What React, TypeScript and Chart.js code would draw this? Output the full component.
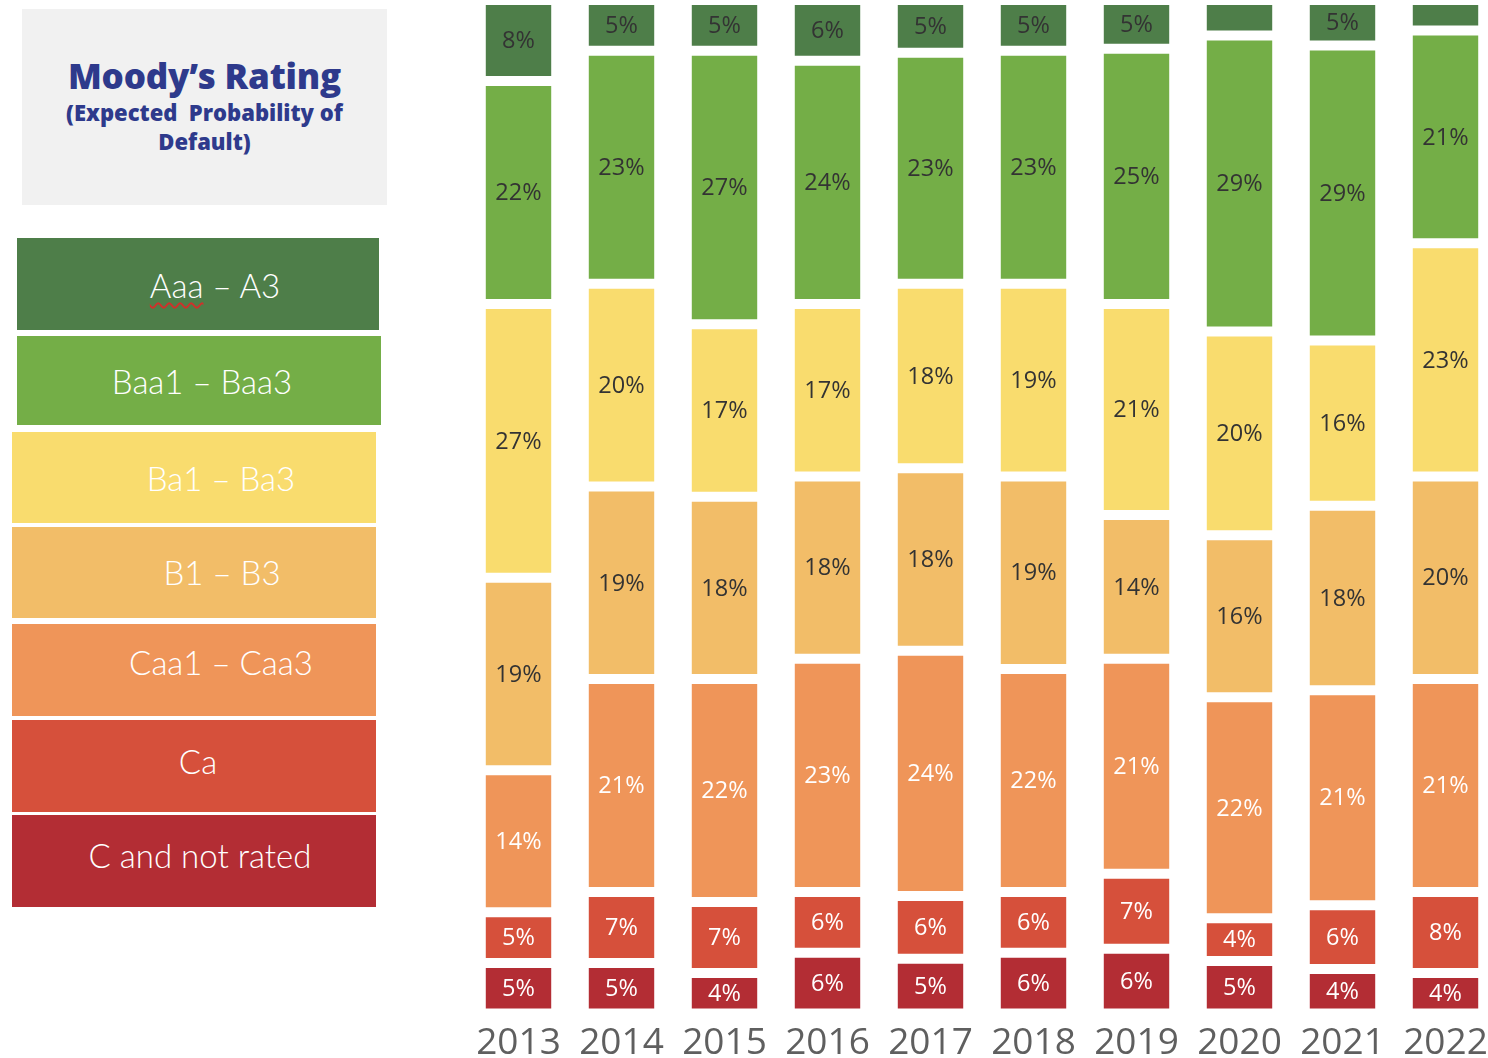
import React, { useEffect, useRef } from "react";
import { Chart, registerables } from "chart.js";

Chart.register(...registerables);

const years = ["2013", "2014", "2015", "2016", "2017", "2018", "2019", "2020", "2021", "2022"];

// Stacked bottom to top
const cNotRated = [5, 5, 4, 6, 5.4, 6, 6.4, 5.2, 4.4, 4];
const ca = [5, 7, 7, 6, 6.2, 6, 7.4, 4.2, 6.3, 8];
const caa1Caa3 = [14, 21, 22, 23, 24.2, 22, 21.2, 21.8, 21.2, 21];
const b1B3 = [19, 19, 18, 18, 18, 19, 14.2, 16, 18.2, 20];
const ba1Ba3 = [27, 20, 17, 17, 18.2, 19, 20.8, 20.1, 16.3, 23];
const baa1Baa3 = [22, 23, 27, 24, 22.8, 23, 25.2, 29.2, 29.1, 21];
const aaaA3 = [8, 5, 5, 6, 5.2, 5, 4.8, 3.5, 4.5, 3];

const seriesNames = ["C and not rated", "Ca", "Caa1 – Caa3", "B1 – B3", "Ba1 – Ba3", "Baa1 – Baa3", "Aaa – A3"];
const seriesValues = [cNotRated, ca, caa1Caa3, b1B3, ba1Ba3, baa1Baa3, aaaA3];
const seriesColors = ["#b32d34", "#d6503b", "#ef9559", "#f2bd68", "#f9dc6e", "#74ae47", "#4e7e49"];
const labelColors = ["#ffffff", "#ffffff", "#ffffff", "#333333", "#333333", "#333333", "#333333"];

const legendBoxes = [
  { name: "Aaa – A3", color: "#4e7e49", x: 17, y: 238, w: 362, h: 92, tx: 215, ty: 285 },
  { name: "Baa1 – Baa3", color: "#74ae47", x: 17, y: 336, w: 364, h: 89, tx: 202, ty: 381 },
  { name: "Ba1 – Ba3", color: "#f9dc6e", x: 12, y: 432, w: 364, h: 91, tx: 221, ty: 478 },
  { name: "B1 – B3", color: "#f2bd68", x: 12, y: 527, w: 364, h: 91, tx: 222, ty: 572 },
  { name: "Caa1 – Caa3", color: "#ef9559", x: 12, y: 624, w: 364, h: 92, tx: 221, ty: 662 },
  { name: "Ca", color: "#d6503b", x: 12, y: 720, w: 364, h: 92, tx: 198, ty: 761 },
  { name: "C and not rated", color: "#b32d34", x: 12, y: 815, w: 364, h: 92, tx: 200, ty: 855 },
];

const barLabels = {
  id: "barLabels",
  afterDatasetsDraw(chart: any) {
    const ctx = chart.ctx;
    ctx.save();
    ctx.font = "23.5px 'Open Sans'";
    ctx.textAlign = "center";
    ctx.textBaseline = "middle";
    chart.data.datasets.forEach((ds: any, di: number) => {
      const meta = chart.getDatasetMeta(di);
      meta.data.forEach((bar: any, i: number) => {
        const v = ds.data[i];
        const visible = Math.abs(bar.base - bar.y) - 10;
        if (visible < 26) return;
        ctx.fillStyle = labelColors[di];
        ctx.fillText(Math.round(v) + "%", bar.x, (bar.y + bar.base) / 2 + 1);
      });
    });
    ctx.restore();
  },
};

function BarChart() {
  const ref = useRef<HTMLCanvasElement | null>(null);
  useEffect(() => {
    if (!ref.current) return;
    const chart = new Chart(ref.current, {
      type: "bar",
      data: {
        labels: years,
        datasets: seriesNames.map((n, i) => ({
          label: n,
          data: seriesValues[i],
          backgroundColor: seriesColors[i],
          borderColor: "#ffffff",
          borderWidth: { top: 5, bottom: 5, left: 0, right: 0 },
          borderSkipped: false,
          categoryPercentage: 1,
          barPercentage: 0.64,
        })),
      },
      options: {
        responsive: false,
        animation: false,
        layout: { padding: 0 },
        plugins: { legend: { display: false }, tooltip: { enabled: false } },
        scales: {
          x: {
            stacked: true,
            grid: { display: false, drawTicks: false },
            border: { display: false },
            ticks: { color: "#5f5f5f", font: { family: "'Open Sans'", size: 37 }, padding: 8, maxRotation: 0 },
          },
          y: { stacked: true, display: false, min: 0, max: 100 },
        },
      },
      plugins: [barLabels],
    });
    return () => chart.destroy();
  }, []);
  return (
    <canvas
      ref={ref}
      width={1030}
      height={1074}
      style={{ position: "absolute", left: 467, top: 0, width: 1030, height: 1074 }}
    />
  );
}

export default function App() {
  return (
    <div
      style={{
        position: "absolute",
        left: 0,
        top: 0,
        width: 1488,
        height: 1058,
        overflow: "hidden",
        background: "#ffffff",
      }}
    >
      <div
        style={{
          position: "absolute",
          left: 22,
          top: 9,
          width: 365,
          height: 196,
          background: "#f1f1f1",
          color: "#2e3a8c",
          fontFamily: "'Open Sans', Lato, sans-serif",
          textAlign: "center",
        }}
      >
        <div style={{ position: "absolute", left: 0, right: 0, top: 46, fontSize: 35, fontWeight: 800, lineHeight: "42px", letterSpacing: "-0.2px" }}>
          Moody’s Rating
        </div>
        <div style={{ position: "absolute", left: 0, right: 0, top: 89, fontSize: 22, fontWeight: 800, lineHeight: "29px" }}>
          (Expected&nbsp; Probability of
          <br />
          Default)
        </div>
      </div>
      {legendBoxes.map((b) => (
        <div
          key={b.name}
          style={{ position: "absolute", left: b.x, top: b.y, width: b.w, height: b.h, background: b.color }}
        />
      ))}
      {legendBoxes.map((b) => (
        <div
          key={b.name + "t"}
          style={{
            position: "absolute",
            left: b.tx,
            top: b.ty,
            transform: "translate(-50%, -50%)",
            whiteSpace: "nowrap",
            color: "#ffffff",
            fontFamily: "Lato, 'Open Sans', sans-serif",
            fontWeight: 300,
            fontSize: 33,
            lineHeight: "38px",
          }}
        >
          {b.name === "Aaa – A3" ? (
            <>
              <span style={{ textDecoration: "underline wavy #d0302a", textDecorationThickness: "1.5px", textUnderlineOffset: "4px" }}>
                Aaa
              </span>{" "}
              – A3
            </>
          ) : (
            b.name
          )}
        </div>
      ))}
      <BarChart />
    </div>
  );
}
